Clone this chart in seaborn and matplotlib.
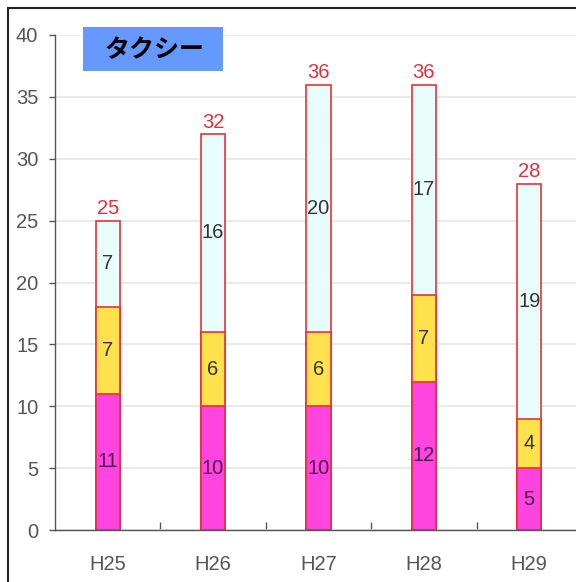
import numpy as np
import pandas as pd
import matplotlib
matplotlib.use("Agg")
import matplotlib.pyplot as plt
from matplotlib.patches import Rectangle
from matplotlib.ticker import FixedLocator
import seaborn as sns

# data
years = ["H25", "H26", "H27", "H28", "H29"]
pink_vals = [11, 10, 10, 12, 5]
yellow_vals = [7, 6, 6, 7, 4]
cyan_vals = [7, 16, 20, 17, 19]

df = pd.DataFrame({"year": years, "pink": pink_vals,
                   "yellow": yellow_vals, "cyan": cyan_vals})
df["lvl1"] = df["pink"]
df["lvl2"] = df["pink"] + df["yellow"]
df["total"] = df["lvl2"] + df["cyan"]

sns.set_theme(style="white")
plt.rcParams["font.family"] = ["Liberation Sans Narrow", "Liberation Sans", "DejaVu Sans"]

fig = plt.figure(figsize=(5.76, 5.82), dpi=100)
ax = fig.add_axes([55 / 576, 1 - 530 / 582, 527 / 576, 495 / 582])

edge = "#e8303a"
bw = 0.23
# stacked bars drawn as overlaid cumulative heights
sns.barplot(data=df, x="year", y="total", color="#e8fcfc", edgecolor=edge,
            linewidth=1.2, width=bw, saturation=1, ax=ax)
sns.barplot(data=df, x="year", y="lvl2", color="#ffe14d", edgecolor=edge,
            linewidth=1.2, width=bw, saturation=1, ax=ax)
sns.barplot(data=df, x="year", y="lvl1", color="#ff44e0", edgecolor=edge,
            linewidth=1.2, width=bw, saturation=1, ax=ax)

fs = 14.5
for i, r in df.iterrows():
    ax.text(i, r["pink"] / 2, str(r["pink"]), ha="center", va="center",
            fontsize=fs, color="#4a1050")
    ax.text(i, r["pink"] + r["yellow"] / 2, str(r["yellow"]), ha="center",
            va="center", fontsize=fs, color="#333333")
    ax.text(i, r["lvl2"] + r["cyan"] / 2, str(r["cyan"]), ha="center",
            va="center", fontsize=fs, color="#333333")
    ax.text(i, r["total"] + 0.2, str(r["total"]), ha="center", va="bottom",
            fontsize=fs, color="#e03040")

ax.set_xlim(-0.5, 4.5)
ax.set_ylim(0, 40)
ax.set_yticks(range(0, 41, 5))
ax.yaxis.grid(True, color="#e6e6e6", linewidth=1.2)
ax.set_axisbelow(True)
ax.set_xlabel("")
ax.set_ylabel("")
for s in ["top", "right"]:
    ax.spines[s].set_visible(False)
for s in ["left", "bottom"]:
    ax.spines[s].set_color("#555555")
    ax.spines[s].set_linewidth(1)

ax.tick_params(axis="y", left=True, length=4, width=1, color="#555555",
               labelsize=fs, labelcolor="#555555", pad=8)
ax.tick_params(axis="x", bottom=False, labelsize=fs, labelcolor="#555555",
               pad=12)
ax.xaxis.set_minor_locator(FixedLocator(np.arange(0.5, 5, 1)))
ax.tick_params(axis="x", which="minor", bottom=True, length=6, width=1,
               color="#555555", direction="in")

# title box
fig.add_artist(Rectangle((83 / 576, 1 - 71 / 582), 140 / 576, 44 / 582,
                         transform=fig.transFigure, facecolor="#6699ff",
                         edgecolor="none"))
fig.text(154 / 576, 1 - 50 / 582, "タクシー", ha="center", va="center",
         fontsize=18, fontweight="bold", color="black",
         family=["Noto Sans CJK JP", "DejaVu Sans"])

# frame round the picture
fig.add_artist(Rectangle((8 / 576, -0.1), 1.2, 1 - 8 / 582 + 0.1,
                         transform=fig.transFigure, fill=False,
                         edgecolor="#222222", linewidth=1.5))

fig.savefig("out.png", dpi=100)
